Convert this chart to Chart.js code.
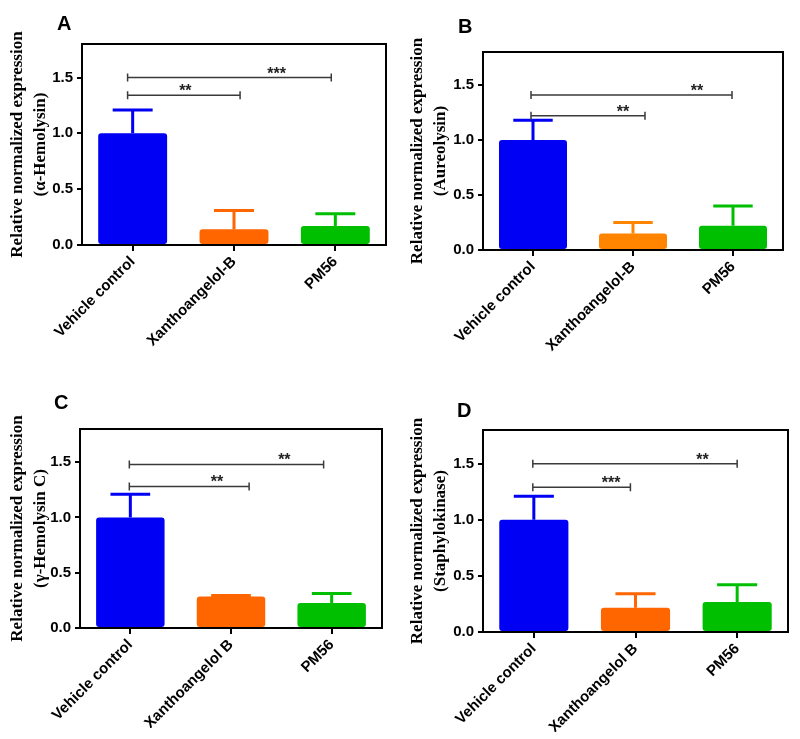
<!DOCTYPE html>
<html lang="en">
<head>
<meta charset="UTF-8">
<title>Relative normalized expression of toxin genes</title>
<script src="https://cdn.jsdelivr.net/npm/chart.js"></script>
<style>
  body { margin: 0; background: #fff; }
  #wrap { position: relative; width: 800px; height: 739px; }
  canvas { position: absolute; }
  .letter { position: absolute; font: bold 20px "Liberation Sans", Arial, sans-serif; line-height: 20px; color: #000; }
</style>
</head>
<body>
<div id="wrap">
  <canvas id="chartA" width="400" height="370" style="left:0;top:0"></canvas>
  <canvas id="chartB" width="400" height="370" style="left:400px;top:0"></canvas>
  <canvas id="chartC" width="400" height="369" style="left:0;top:370px"></canvas>
  <canvas id="chartD" width="400" height="369" style="left:400px;top:370px"></canvas>
  <div class="letter" style="left:57px;top:13px">A</div>
  <div class="letter" style="left:458px;top:16px">B</div>
  <div class="letter" style="left:54px;top:392px">C</div>
  <div class="letter" style="left:457px;top:400px">D</div>
</div>
<script>
// groups on the x axis
const groupsAB = ['Vehicle control', 'Xanthoangelol-B', 'PM56'];
const groupsCD = ['Vehicle control', 'Xanthoangelol B', 'PM56'];

// mean and SD
const meanA = [1.00, 0.14, 0.17];
const sdA   = [0.21, 0.17, 0.11];
const meanB = [1.00, 0.15, 0.22];
const sdB   = [0.18, 0.10, 0.18];
const meanC = [1.00, 0.285, 0.226];
const sdC   = [0.21, 0.01, 0.085];
const meanD = [1.00, 0.216, 0.267];
const sdD   = [0.21, 0.124, 0.153];

// significance brackets: [from, to, y value, stars, star position]
const sigA = [[-0.05, 1.06, 1.34, '**', 0.52], [-0.05, 1.96, 1.50, '***', 1.42]];
const sigB = [[-0.02, 1.12, 1.22, '**', 0.90], [-0.02, 1.99, 1.41, '**', 1.64]];
const sigC = [[-0.01, 1.18, 1.28, '**', 0.86], [-0.01, 1.92, 1.48, '**', 1.53]];
const sigD = [[-0.01, 0.95, 1.29, '***', 0.76], [-0.01, 2.00, 1.50, '**', 1.66]];

const yTicks = [0, 0.5, 1.0, 1.5];

const errorBars = {
  id: 'errorBars',
  afterDatasetsDraw(chart, args, opts) {
    const {ctx, scales: {y}} = chart;
    const ds = chart.data.datasets[0];
    const meta = chart.getDatasetMeta(0);
    ctx.save();
    ctx.lineWidth = 3;
    meta.data.forEach((bar, i) => {
      const top = y.getPixelForValue(ds.data[i] + opts.sd[i]);
      const half = bar.width * 0.29;
      ctx.strokeStyle = ds.backgroundColor[i];
      ctx.beginPath();
      ctx.moveTo(bar.x, bar.y);
      ctx.lineTo(bar.x, top);
      ctx.moveTo(bar.x - half, top);
      ctx.lineTo(bar.x + half, top);
      ctx.stroke();
    });
    ctx.restore();
  }
};

const brackets = {
  id: 'brackets',
  afterDraw(chart, args, opts) {
    const {ctx, scales: {x, y}, chartArea: a} = chart;
    ctx.save();
    ctx.strokeStyle = '#000';
    ctx.lineWidth = 2;
    ctx.strokeRect(a.left, a.top, a.right - a.left, a.bottom - a.top);
    ctx.strokeStyle = '#3a3a3a';
    ctx.lineWidth = 1.5;
    ctx.fillStyle = '#222';
    ctx.font = 'bold 16px "Liberation Sans", Arial, sans-serif';
    ctx.textAlign = 'center';
    ctx.textBaseline = 'alphabetic';
    opts.list.forEach(b => {
      const x1 = x.getPixelForValue(b[0]);
      const x2 = x.getPixelForValue(b[1]);
      const yy = y.getPixelForValue(b[2]);
      ctx.beginPath();
      ctx.moveTo(x1, yy); ctx.lineTo(x2, yy);
      ctx.moveTo(x1, yy - 4); ctx.lineTo(x1, yy + 4);
      ctx.moveTo(x2, yy - 4); ctx.lineTo(x2, yy + 4);
      ctx.stroke();
      ctx.fillText(b[3], x.getPixelForValue(b[4]), yy + 1);
    });
    ctx.restore();
  }
};

function makeChart(id, groups, means, sds, colors, subtitle, sig, box) {
  return new Chart(document.getElementById(id), {
    type: 'bar',
    data: {
      labels: groups,
      datasets: [{
        data: means,
        backgroundColor: colors,
        borderRadius: 3,
        borderSkipped: false,
        barPercentage: 0.68,
        categoryPercentage: 1
      }]
    },
    options: {
      responsive: false,
      animation: false,
      layout: { padding: { left: 0, top: box.top, right: box.right, bottom: box.bottom } },
      plugins: {
        legend: { display: false },
        tooltip: { enabled: false },
        errorBars: { sd: sds },
        brackets: { list: sig }
      },
      scales: {
        x: {
          grid: { offset: false, drawOnChartArea: false, drawTicks: true, tickLength: 6, color: '#000', lineWidth: 2 },
          border: { display: true, color: '#000', width: 2 },
          ticks: {
            autoSkip: false, minRotation: 45, maxRotation: 45, padding: 2, color: '#000',
            font: { family: '"Liberation Sans", Arial, sans-serif', size: 15, weight: 'bold' }
          },
          afterFit(scale) { scale.height = box.xh; }
        },
        y: {
          min: 0, max: 1.8,
          grid: { drawOnChartArea: false, drawTicks: true, tickLength: 5, color: '#000', lineWidth: 2 },
          border: { display: true, color: '#000', width: 2 },
          ticks: {
            stepSize: 0.5, padding: 4, color: '#000',
            font: { family: '"Liberation Sans", Arial, sans-serif', size: 15, weight: 'bold' },
            callback: v => v.toFixed(1)
          },
          afterBuildTicks(scale) { scale.ticks = yTicks.map(v => ({ value: v })); },
          afterFit(scale) { scale.width = box.left; },
          title: {
            display: true,
            text: ['Relative normalized expression', subtitle],
            color: '#000',
            padding: { top: 7, bottom: 0 },
            font: { family: '"Liberation Serif", "Times New Roman", serif', size: 17, weight: 'bold', lineHeight: 1.3 }
          }
        }
      }
    },
    plugins: [errorBars, brackets]
  });
}

makeChart('chartA', groupsAB, meanA, sdA, ['#0000f5', '#ff6600', '#00bf00'], '(\u03b1-Hemolysin)', sigA,
  { left: 82, top: 44, right: 14, xh: 110, bottom: 15 });
makeChart('chartB', groupsAB, meanB, sdB, ['#0000f5', '#ff8400', '#00bf00'], '(Aureolysin)', sigB,
  { left: 83, top: 52, right: 17, xh: 110, bottom: 10 });
makeChart('chartC', groupsCD, meanC, sdC, ['#0000f5', '#ff6600', '#00bf00'], '(\u03b3-Hemolysin C)', sigC,
  { left: 80, top: 59, right: 18, xh: 100, bottom: 11 });
makeChart('chartD', groupsCD, meanD, sdD, ['#0000f5', '#ff6600', '#00bf00'], '(Staphylokinase)', sigD,
  { left: 83, top: 60, right: 12, xh: 100, bottom: 7 });
</script>
</body>
</html>
